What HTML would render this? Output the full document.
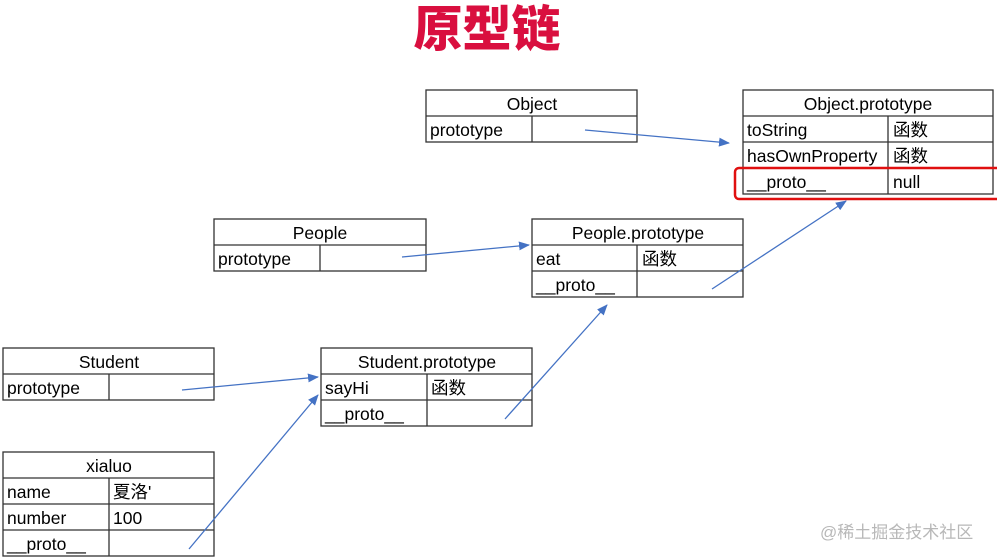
<!DOCTYPE html>
<html><head><meta charset="utf-8"><style>
html,body{margin:0;padding:0;background:#fff;width:997px;height:559px;overflow:hidden}
svg{display:block}
text{font-family:"Liberation Sans","Noto Sans CJK SC",sans-serif;font-size:17.5px;fill:#000}
.t{font-family:"Noto Sans CJK SC","WenQuanYi Zen Hei",sans-serif;font-weight:900;font-size:49px;fill:#d90f3f}
.w{fill:#b8b8b8;font-size:17px}
</style></head><body>
<svg width="997" height="559" viewBox="0 0 997 559">
<defs><marker id="a" markerWidth="11" markerHeight="9" refX="10" refY="4.5" orient="auto" markerUnits="userSpaceOnUse"><path d="M0,0 L11,4.5 L0,9 z" fill="#4472c4"/></marker></defs>
<text class="t" x="487" y="46" text-anchor="middle">原型链</text>
<g fill="none" stroke="#333" stroke-width="1.3">
<rect x="426" y="90" width="211" height="52"/><line x1="426" y1="116" x2="637" y2="116"/><line x1="532" y1="116" x2="532" y2="142"/>
<rect x="743" y="90" width="250" height="104"/><line x1="743" y1="116" x2="993" y2="116"/><line x1="743" y1="142" x2="993" y2="142"/><line x1="743" y1="168" x2="993" y2="168"/><line x1="888" y1="116" x2="888" y2="194"/>
<rect x="214" y="219" width="212" height="52"/><line x1="214" y1="245" x2="426" y2="245"/><line x1="320" y1="245" x2="320" y2="271"/>
<rect x="532" y="219" width="211" height="78"/><line x1="532" y1="245" x2="743" y2="245"/><line x1="532" y1="271" x2="743" y2="271"/><line x1="637" y1="245" x2="637" y2="297"/>
<rect x="3" y="348" width="211" height="52"/><line x1="3" y1="374" x2="214" y2="374"/><line x1="109" y1="374" x2="109" y2="400"/>
<rect x="321" y="348" width="211" height="78"/><line x1="321" y1="374" x2="532" y2="374"/><line x1="321" y1="400" x2="532" y2="400"/><line x1="427" y1="374" x2="427" y2="426"/>
<rect x="3" y="452" width="211" height="104"/><line x1="3" y1="478" x2="214" y2="478"/><line x1="3" y1="504" x2="214" y2="504"/><line x1="3" y1="530" x2="214" y2="530"/><line x1="109" y1="478" x2="109" y2="556"/>
</g>
<rect x="735" y="168" width="266" height="31" rx="4" fill="none" stroke="#e01010" stroke-width="2.5"/>
<g stroke="#4472c4" stroke-width="1.3" fill="none" marker-end="url(#a)">
<line x1="585" y1="130" x2="729" y2="143"/>
<line x1="402" y1="257" x2="529" y2="245"/>
<line x1="712" y1="289" x2="846" y2="201"/>
<line x1="182" y1="390" x2="318" y2="377"/>
<line x1="505" y1="419" x2="607" y2="305"/>
<line x1="189" y1="549" x2="318" y2="395"/>
</g>
<text x="532" y="110" text-anchor="middle">Object</text>
<text x="430" y="136">prototype</text>
<text x="868" y="110" text-anchor="middle">Object.prototype</text>
<text x="747" y="136">toString</text><text x="893" y="136">函数</text>
<text x="747" y="162">hasOwnProperty</text><text x="893" y="162">函数</text>
<text x="747" y="188">__proto__</text><text x="893" y="188">null</text>
<text x="320" y="239" text-anchor="middle">People</text>
<text x="218" y="265">prototype</text>
<text x="638" y="239" text-anchor="middle">People.prototype</text>
<text x="536" y="265">eat</text><text x="642" y="265">函数</text>
<text x="536" y="291">__proto__</text>
<text x="109" y="368" text-anchor="middle">Student</text>
<text x="7" y="394">prototype</text>
<text x="427" y="368" text-anchor="middle">Student.prototype</text>
<text x="325" y="394">sayHi</text><text x="431" y="394">函数</text>
<text x="325" y="420">__proto__</text>
<text x="109" y="472" text-anchor="middle">xialuo</text>
<text x="7" y="498">name</text><text x="113" y="498">夏洛'</text>
<text x="7" y="524">number</text><text x="113" y="524">100</text>
<text x="7" y="550">__proto__</text>
<text class="w" x="820" y="538">@稀土掘金技术社区</text>
</svg>
</body></html>
